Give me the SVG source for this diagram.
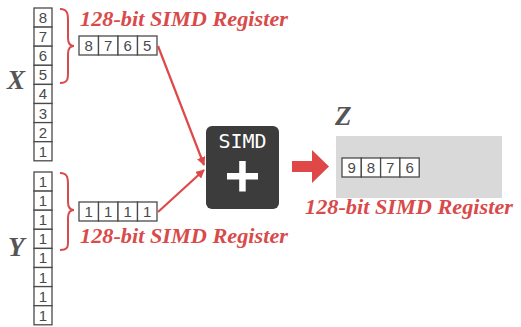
<svg xmlns="http://www.w3.org/2000/svg" width="521" height="327" viewBox="0 0 521 327">
  <style>
    .cell { fill: #ffffff; stroke: #4a4a4a; stroke-width: 1.3; }
    .num { font-family: "Liberation Sans", Arial, sans-serif; font-size: 15px; fill: #4a4a4a; text-anchor: middle; }
    .reg-label { font-family: "Liberation Serif", "Times New Roman", serif; font-weight: bold; font-style: italic; font-size: 22px; fill: #d94a4a; }
    .var { font-family: "Liberation Serif", "Times New Roman", serif; font-weight: bold; font-style: italic; font-size: 27px; fill: #555555; }
    .brace { fill: none; stroke: #d94a4a; stroke-width: 2; }
    .wire { fill: none; stroke: #e04848; stroke-width: 2.2; }
  </style>
  <defs>
    <marker id="head" viewBox="0 0 10 10" refX="9" refY="5" markerWidth="4" markerHeight="4" orient="auto" markerUnits="strokeWidth">
      <path d="M0,0 L10,5 L0,10 Z" fill="#e04848"/>
    </marker>
  </defs>

  <rect width="521" height="327" fill="#ffffff"/>

  <!-- vector X: eight lanes -->
  <g id="vector-x">
    <rect class="cell" x="34" y="8" width="18" height="19.1"/>
    <rect class="cell" x="34" y="27.1" width="18" height="19.1"/>
    <rect class="cell" x="34" y="46.2" width="18" height="19.1"/>
    <rect class="cell" x="34" y="65.3" width="18" height="19.1"/>
    <rect class="cell" x="34" y="84.4" width="18" height="19.1"/>
    <rect class="cell" x="34" y="103.5" width="18" height="19.1"/>
    <rect class="cell" x="34" y="122.6" width="18" height="19.1"/>
    <rect class="cell" x="34" y="141.7" width="18" height="19.1"/>
    <text class="num" x="43" y="23">8</text>
    <text class="num" x="43" y="42.1">7</text>
    <text class="num" x="43" y="61.2">6</text>
    <text class="num" x="43" y="80.3">5</text>
    <text class="num" x="43" y="99.4">4</text>
    <text class="num" x="43" y="118.5">3</text>
    <text class="num" x="43" y="137.6">2</text>
    <text class="num" x="43" y="156.7">1</text>
    <text class="var" x="7" y="89">X</text>
    <path class="brace" d="M60,9 C69,9 68,16 68,26 L68,38 C68,44 70,46 74,46 C70,46 68,48 68,54 L68,68 C68,78 69,83 60,83"/>
  </g>

  <!-- vector Y: eight lanes -->
  <g id="vector-y">
    <rect class="cell" x="34" y="172" width="18" height="19.1"/>
    <rect class="cell" x="34" y="191.1" width="18" height="19.1"/>
    <rect class="cell" x="34" y="210.2" width="18" height="19.1"/>
    <rect class="cell" x="34" y="229.3" width="18" height="19.1"/>
    <rect class="cell" x="34" y="248.4" width="18" height="19.1"/>
    <rect class="cell" x="34" y="267.5" width="18" height="19.1"/>
    <rect class="cell" x="34" y="286.6" width="18" height="19.1"/>
    <rect class="cell" x="34" y="305.7" width="18" height="19.1"/>
    <text class="num" x="43" y="187">1</text>
    <text class="num" x="43" y="206.1">1</text>
    <text class="num" x="43" y="225.2">1</text>
    <text class="num" x="43" y="244.3">1</text>
    <text class="num" x="43" y="263.4">1</text>
    <text class="num" x="43" y="282.5">1</text>
    <text class="num" x="43" y="301.6">1</text>
    <text class="num" x="43" y="320.7">1</text>
    <text class="var" x="8" y="256">Y</text>
    <path class="brace" d="M60,173 C69,173 68,180 68,190 L68,202 C68,208 70,210 74,210 C70,210 68,212 68,218 L68,238 C68,246 69,250 60,250"/>
  </g>

  <!-- register loaded from X -->
  <g id="register-x">
    <rect class="cell" x="79" y="36" width="19.5" height="19"/>
    <rect class="cell" x="98.5" y="36" width="19.5" height="19"/>
    <rect class="cell" x="118" y="36" width="19.5" height="19"/>
    <rect class="cell" x="137.5" y="36" width="19.5" height="19"/>
    <text class="num" x="88.75" y="51">8</text>
    <text class="num" x="108.25" y="51">7</text>
    <text class="num" x="127.75" y="51">6</text>
    <text class="num" x="147.25" y="51">5</text>
    <text class="reg-label" x="80" y="26" textLength="208" lengthAdjust="spacingAndGlyphs">128-bit SIMD Register</text>
  </g>

  <!-- register loaded from Y -->
  <g id="register-y">
    <rect class="cell" x="79" y="202" width="19.5" height="19"/>
    <rect class="cell" x="98.5" y="202" width="19.5" height="19"/>
    <rect class="cell" x="118" y="202" width="19.5" height="19"/>
    <rect class="cell" x="137.5" y="202" width="19.5" height="19"/>
    <text class="num" x="88.75" y="217">1</text>
    <text class="num" x="108.25" y="217">1</text>
    <text class="num" x="127.75" y="217">1</text>
    <text class="num" x="147.25" y="217">1</text>
    <text class="reg-label" x="80" y="243" textLength="208" lengthAdjust="spacingAndGlyphs">128-bit SIMD Register</text>
  </g>

  <!-- SIMD add unit -->
  <g id="simd-add">
    <rect x="206" y="126" width="73" height="83" rx="6" ry="6" fill="#3c3c3c"/>
    <text x="242.5" y="148" font-family="'DejaVu Sans Mono', 'Liberation Mono', monospace" font-size="20" fill="#ffffff" text-anchor="middle">SIMD</text>
    <rect x="227" y="173" width="31" height="6.5" fill="#ffffff"/>
    <rect x="239.2" y="161" width="6.5" height="30.5" fill="#ffffff"/>
  </g>

  <!-- result register Z -->
  <g id="result-z">
    <rect x="336" y="136" width="166" height="62" fill="#d9d9d9"/>
    <rect class="cell" x="342" y="158" width="19.3" height="19"/>
    <rect class="cell" x="361.3" y="158" width="19.3" height="19"/>
    <rect class="cell" x="380.6" y="158" width="19.3" height="19"/>
    <rect class="cell" x="399.9" y="158" width="19.3" height="19"/>
    <text class="num" x="351.65" y="173">9</text>
    <text class="num" x="370.95" y="173">8</text>
    <text class="num" x="390.25" y="173">7</text>
    <text class="num" x="409.55" y="173">6</text>
    <text class="var" x="335" y="125">Z</text>
    <text class="reg-label" x="305" y="214" textLength="208" lengthAdjust="spacingAndGlyphs">128-bit SIMD Register</text>
  </g>

  <!-- data flow -->
  <g id="connectors">
    <path class="wire" d="M158,46 L204,165" marker-end="url(#head)"/>
    <path class="wire" d="M158,212 L204,170" marker-end="url(#head)"/>
    <path d="M292,161 L312,161 L312,150 L329,166.5 L312,183 L312,172 L292,172 Z" fill="#e04848"/>
  </g>
</svg>
